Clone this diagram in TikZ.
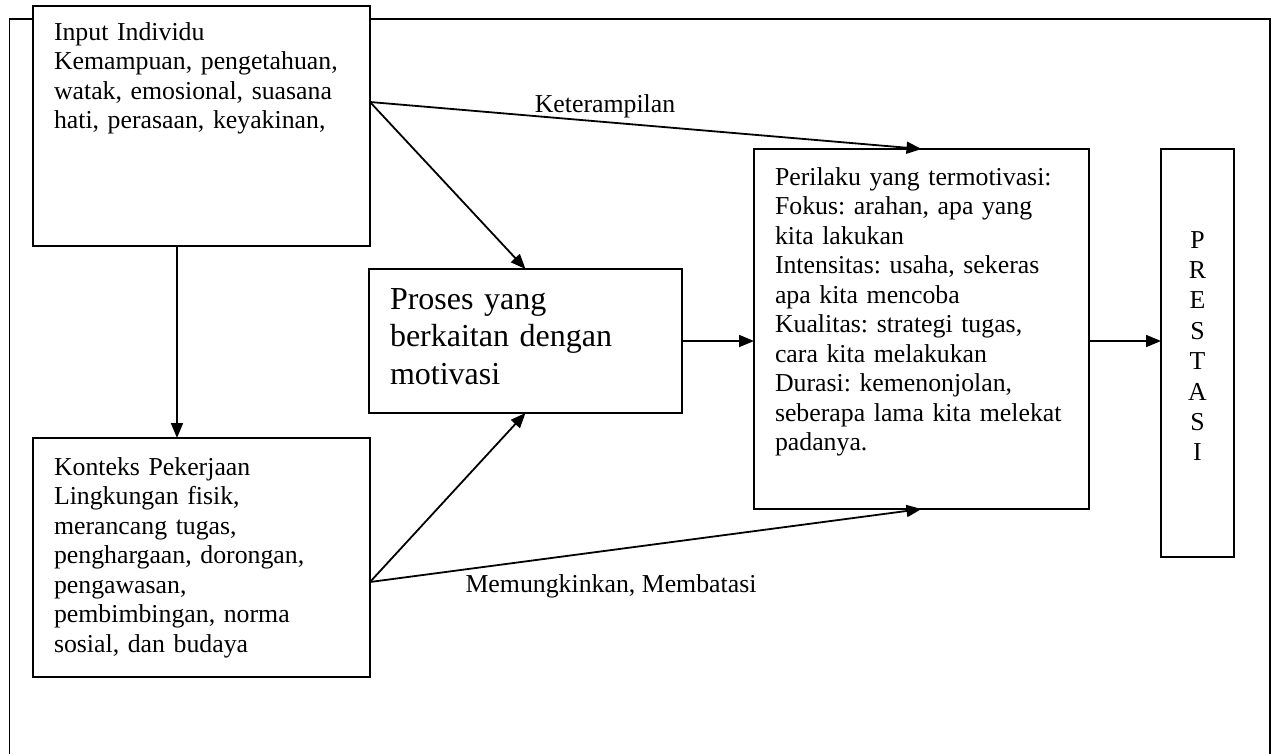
\documentclass[tikz,border=0pt]{standalone}
\usepackage{fontspec}
\setmainfont{Liberation Serif}
\frenchspacing
\usetikzlibrary{arrows.meta}
\begin{document}
\begin{tikzpicture}[>={Triangle[length=15pt,width=12pt]},x=1pt,y=-1pt,line width=1.8pt,
	box/.style={draw,fill=white,rectangle,anchor=north west,outer sep=0pt,inner xsep=21pt,inner ysep=0pt,align=left,font=\fontsize{25.8}{29.5}\selectfont},
	lbl/.style={anchor=base,inner sep=0pt,font=\fontsize{25.8}{29.5}\selectfont}]
	\def\inpy{96}
	\def\kerjy{144}
	\useasboundingbox (0,0) rectangle (1278,753);
	% frame
	\draw (9.5,760) -- (9.5,19) -- (1270,19) -- (1270,760);
	% boxes
	\node[box,text width=295pt,text height=34pt,text depth=206pt] (input) at (33,6) {Input Individu\\ Kemampuan, pengetahuan,\\ watak, emosional, suasana\\ hati, perasaan, keyakinan,};
	\node[box,text width=295pt,text height=37pt,text depth=202pt] (konteks) at (33,438) {Konteks Pekerjaan\\ Lingkungan fisik,\\ merancang tugas,\\ penghargaan, dorongan,\\ pengawasan,\\ pembimbingan, norma\\ sosial, dan budaya};
	\node[box,text width=271pt,text height=40pt,text depth=104pt,font=\fontsize{32}{37.5}\selectfont] (proses) at (369,269) {Proses yang\\ berkaitan dengan\\ motivasi};
	\node[box,text width=293pt,text height=36pt,text depth=324pt] (perilaku) at (754,149) {Perilaku yang termotivasi:\\ Fokus: arahan, apa yang\\ kita lakukan\\ Intensitas: usaha, sekeras\\ apa kita mencoba\\ Kualitas: strategi tugas,\\ cara kita melakukan\\ Durasi: kemenonjolan,\\ seberapa lama kita melekat\\ padanya.};
	\node[box,inner xsep=0pt,text width=73pt,align=center,text height=99pt,text depth=309pt,font=\fontsize{25.8}{30.4}\selectfont] (prestasi) at (1161,149) {P\\ R\\ E\\ S\\ T\\ A\\ S\\ I};
	% arrows
	\coordinate (inpout) at ([yshift=-\inpy pt]input.north east);
	\coordinate (kerjout) at ([yshift=-\kerjy pt]konteks.north east);
	\draw[->] ([xshift=-24.5pt]input.south) -- ([xshift=-24.5pt]konteks.north);
	\draw[->] (inpout) -- (proses.north);
	\draw[->] (inpout) -- (perilaku.north);
	\draw[->] (kerjout) -- (proses.south);
	\draw[->] (kerjout) -- (perilaku.south);
	\draw[->] (proses.east) -- (perilaku.west |- proses.east);
	\draw[->] (perilaku.east |- proses.east) -- (prestasi.west |- proses.east);
	\node[lbl] (keterampilan) at (605,112) {Keterampilan};
	\node[lbl] (batasan) at (611,592) {Memungkinkan, Membatasi};
\end{tikzpicture}
\end{document}
